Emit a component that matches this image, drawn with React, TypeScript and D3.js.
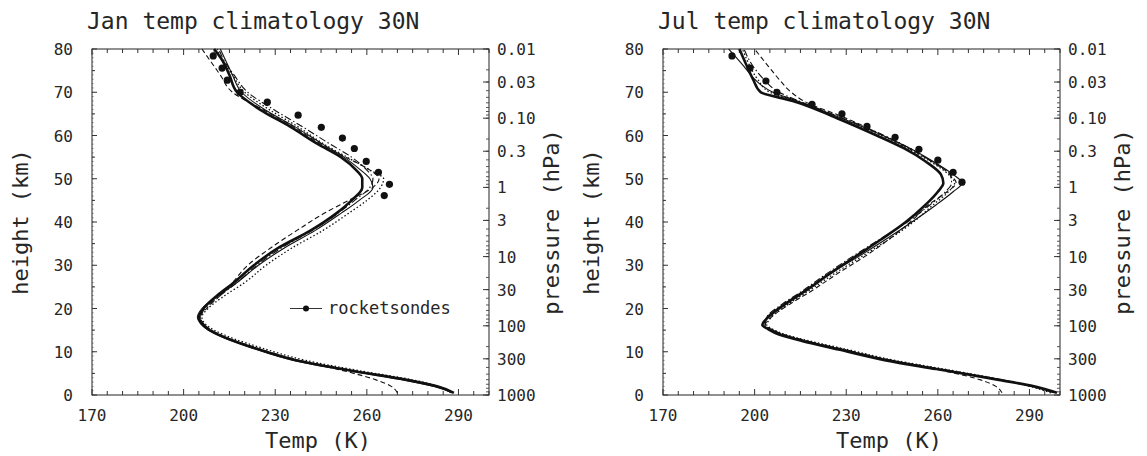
import React from 'react';
import * as d3 from 'd3';

// ---------- axis tick values / labels ----------
const tempTicks = [170, 200, 230, 260, 290];
const heightTicks = [0, 10, 20, 30, 40, 50, 60, 70, 80];
const pressureValues = [0.01, 0.03, 0.1, 0.3, 1, 3, 10, 30, 100, 300, 1000];
const pressureLabels = ['0.01', '0.03', '0.10', '0.3', '1', '3', '10', '30', '100', '300', '1000'];

// ---------- January ----------
const janHeights = [0.5, 2, 3.5, 5.5, 8, 11, 13, 15, 16.5, 18, 20, 23, 26, 30, 34, 38, 42, 45, 48, 50, 52, 55, 58, 62, 66, 70, 74, 77, 80];
const janModelA = [288.5, 283, 273, 256, 237, 222.5, 214.5, 208.5, 206, 205, 206.5, 211, 216.5, 223, 231, 241.5, 250, 255, 258.5, 258.5, 256.5, 251.5, 244, 235, 225, 217.5, 215, 213, 210];
const janModelB = [288, 282, 272, 255, 236, 222, 214, 208, 205.5, 204.5, 206, 211.5, 217.5, 224.5, 233, 243, 251.5, 257.5, 262, 261, 258, 252.5, 245.5, 236.5, 226.5, 219, 216, 214, 212];
const janModelC = [270, 268, 263, 253, 237.5, 223.5, 215, 209, 206.5, 205.5, 207.5, 212, 216, 221, 228.5, 237, 246, 254, 262, 264, 261, 253, 245, 236, 226, 216, 212, 209, 206];
const janModelD = [287.5, 283.5, 275, 258.5, 240, 225, 216.5, 210, 207, 206, 208, 213.5, 220, 227, 235.5, 245.5, 254, 260, 264.5, 265.5, 261, 253.5, 246, 237.5, 228, 220, 216, 213, 211];
const janModelE = [288, 282.5, 273.5, 257, 238, 223, 215, 209, 206.5, 205.5, 207, 212, 217.5, 224, 232, 242, 250.5, 256, 261, 262, 260, 255, 248, 239, 229.5, 221, 216.5, 213.5, 211.5];
const janRocketHeights = [78.4, 75.6, 72.8, 70, 67.7, 64.7, 61.9, 59.4, 57, 54, 51.5, 48.7, 46.1];
const janRocketTemps = [209.7, 212.6, 214.3, 218.5, 227.4, 237.5, 245.1, 252, 255.9, 259.8, 263.8, 267.4, 265.7];

// ---------- July ----------
const julHeights = [0.5, 2, 3.5, 6, 8, 10.5, 12.5, 14, 15.2, 16.2, 18, 21, 24, 28, 32, 36, 40, 44, 47, 49, 51, 54, 57, 60, 64, 68, 70, 73, 76, 80];
const julModelA = [299, 291.5, 280, 259.5, 243, 227.5, 215.5, 208, 204.5, 202.5, 204.5, 210, 216.5, 224.5, 233, 241.5, 249.5, 256, 260, 261.8, 261, 256, 249, 240, 227, 212.5, 202, 199.5, 197.5, 195];
const julModelB = [298.5, 291, 280.5, 260.5, 244.5, 229, 216.5, 209, 205, 203, 204, 209.5, 216, 224.5, 234, 243, 251.5, 259.5, 265, 268, 265, 258.5, 251, 242, 228.5, 214, 206, 200, 196.5, 191.5];
const julModelC = [281, 279, 274, 259, 244, 229, 217, 209.5, 205.5, 203.5, 205.5, 211.5, 218.5, 227, 236, 244, 251, 257, 263, 266, 264, 258, 250.5, 242, 230, 216, 212, 208, 204.5, 200];
const julModelD = [297, 290, 281, 262, 246, 230.5, 218, 210, 206, 204, 205.5, 211, 217.5, 226, 235, 244, 252, 258.5, 263.5, 265.5, 263.5, 257.5, 250, 241.5, 228, 213.5, 205, 201, 198.5, 196];
const julModelE = [298, 291, 281, 261, 245, 229.5, 217, 209.5, 205.5, 203.5, 204, 209, 215.5, 223.5, 232, 241, 250, 257.5, 262.5, 264.5, 264, 258, 251, 242.5, 229, 214.5, 208, 203, 199.5, 196.5];
const julRocketHeights = [78.4, 75.6, 72.6, 70, 67.2, 65, 62.1, 59.6, 56.8, 54.3, 51.5, 49.2];
const julRocketTemps = [192.6, 198.5, 203.7, 207.3, 218.8, 228.6, 236.8, 246, 253.8, 260, 265, 267.9];

const legendLabel = 'rocketsondes';

const lineStyles = [
  { width: 2.6, dash: undefined },
  { width: 1.1, dash: undefined },
  { width: 1.1, dash: '5,3' },
  { width: 1.3, dash: '1.5,2.2' },
  { width: 1.1, dash: '7,2.5,1.5,2.5' },
];

const FONT = '"DejaVu Sans Mono", monospace';
const SCALE_H = 80 / Math.log(1e5);

const PLOT_TOP = 49;
const PLOT_BOTTOM = 395;
const PLOT_W = 397;

interface PanelProps {
  left: number;
  title: string;
  heights: number[];
  models: number[][];
  rocketH: number[];
  rocketT: number[];
  legend: boolean;
}

function Panel({ left, title, heights, models, rocketH, rocketT, legend }: PanelProps) {
  const x = d3.scaleLinear().domain([170, 300]).range([left, left + PLOT_W]);
  const y = d3.scaleLinear().domain([0, 80]).range([PLOT_BOTTOM, PLOT_TOP]);
  const pY = (p: number) => y(SCALE_H * Math.log(1000 / p));
  const right = left + PLOT_W;

  const line = d3
    .line<number>()
    .x((t) => x(t))
    .y((_, i) => y(heights[i]))
    .curve(d3.curveMonotoneY);

  const xMinor = d3.range(170, 301, 5);
  const yMinor = d3.range(0, 81, 5);
  const yTiny = d3.range(0, 81, 1);
  const pMinor: number[] = [];
  [0.01, 0.1, 1, 10, 100].forEach((dec) => {
    for (let m = 1; m <= 9; m++) pMinor.push(dec * m);
  });
  pMinor.push(1000);

  const fg = '#262626';

  return (
    <g>
      <text x={left - 5} y={29} fontFamily={FONT} fontSize={23} fill={fg}>
        {title}
      </text>

      {/* frame */}
      <rect x={left} y={PLOT_TOP} width={PLOT_W} height={PLOT_BOTTOM - PLOT_TOP} fill="none" stroke="#222" strokeWidth={1} />

      {/* x ticks bottom & top */}
      {xMinor.map((t) => (
        <g key={'xt' + t}>
          <line x1={x(t)} x2={x(t)} y1={PLOT_BOTTOM} y2={PLOT_BOTTOM - (t % 30 === 20 ? 6 : 4)} stroke="#333" strokeWidth={1} />
          <line x1={x(t)} x2={x(t)} y1={PLOT_TOP} y2={PLOT_TOP + (t % 30 === 20 ? 6 : 4)} stroke="#333" strokeWidth={1} />
        </g>
      ))}
      {tempTicks.map((t) => (
        <text key={'xl' + t} x={x(t)} y={421} textAnchor="middle" fontFamily={FONT} fontSize={16} fill={fg}>
          {t}
        </text>
      ))}

      {/* left y ticks */}
      {yTiny.map((h) => (
        <line key={'ytt' + h} x1={left} x2={left + 1.5} y1={y(h)} y2={y(h)} stroke="#555" strokeWidth={0.8} />
      ))}
      {yMinor.map((h) => (
        <line key={'yt' + h} x1={left} x2={left + (h % 10 === 0 ? 5 : 3)} y1={y(h)} y2={y(h)} stroke="#333" strokeWidth={1} />
      ))}
      {heightTicks.map((h) => (
        <text key={'yl' + h} x={left - 19} y={y(h) + 6} textAnchor="end" fontFamily={FONT} fontSize={16} fill={fg}>
          {h}
        </text>
      ))}

      {/* right pressure ticks */}
      {pMinor.map((p) => (
        <line key={'pt' + p} x1={right} x2={right - 3} y1={pY(p)} y2={pY(p)} stroke="#444" strokeWidth={0.9} />
      ))}
      {pressureValues.map((p, i) => (
        <g key={'pl' + p}>
          <line x1={right} x2={right - 6} y1={pY(p)} y2={pY(p)} stroke="#333" strokeWidth={1} />
          <text x={right + 8} y={pY(p) + 6} fontFamily={FONT} fontSize={16} fill={fg}>
            {pressureLabels[i]}
          </text>
        </g>
      ))}

      {/* axis titles */}
      <text x={left + 226} y={448} textAnchor="middle" fontFamily={FONT} fontSize={22} fill={fg}>
        Temp (K)
      </text>
      <text
        transform={`translate(${left - 64},${(PLOT_TOP + PLOT_BOTTOM) / 2}) rotate(-90)`}
        textAnchor="middle"
        fontFamily={FONT}
        fontSize={22}
        fill={fg}
      >
        height (km)
      </text>
      <text
        transform={`translate(${right + 70},${(PLOT_TOP + PLOT_BOTTOM) / 2}) rotate(-90)`}
        textAnchor="middle"
        fontFamily={FONT}
        fontSize={22}
        fill={fg}
      >
        pressure (hPa)
      </text>

      {/* model profiles */}
      {models.map((vals, i) => (
        <path
          key={'m' + i}
          d={line(vals) || ''}
          fill="none"
          stroke="#111"
          strokeWidth={lineStyles[i].width}
          strokeDasharray={lineStyles[i].dash}
          strokeLinejoin="round"
        />
      ))}

      {/* rocketsondes */}
      {rocketT.map((t, i) => (
        <circle key={'r' + i} cx={x(t)} cy={y(rocketH[i])} r={3.6} fill="#111" />
      ))}

      {legend && (
        <g>
          <line x1={left + 198} x2={left + 230} y1={y(20)} y2={y(20)} stroke="#333" strokeWidth={1} />
          <circle cx={left + 214} cy={y(20)} r={3} fill="#111" />
          <text x={left + 236} y={y(20) + 5} fontFamily={FONT} fontSize={17} fill={fg}>
            {legendLabel}
          </text>
        </g>
      )}
    </g>
  );
}

export default function App() {
  return (
    <svg width={1147} height={456} style={{ position: 'absolute', left: 0, top: 0, background: '#fff' }}>
      <rect width={1147} height={456} fill="#fff" />
      <Panel
        left={92}
        title="Jan temp climatology 30N"
        heights={janHeights}
        models={[janModelA, janModelB, janModelC, janModelD, janModelE]}
        rocketH={janRocketHeights}
        rocketT={janRocketTemps}
        legend={true}
      />
      <Panel
        left={663}
        title="Jul temp climatology 30N"
        heights={julHeights}
        models={[julModelA, julModelB, julModelC, julModelD, julModelE]}
        rocketH={julRocketHeights}
        rocketT={julRocketTemps}
        legend={false}
      />
    </svg>
  );
}
